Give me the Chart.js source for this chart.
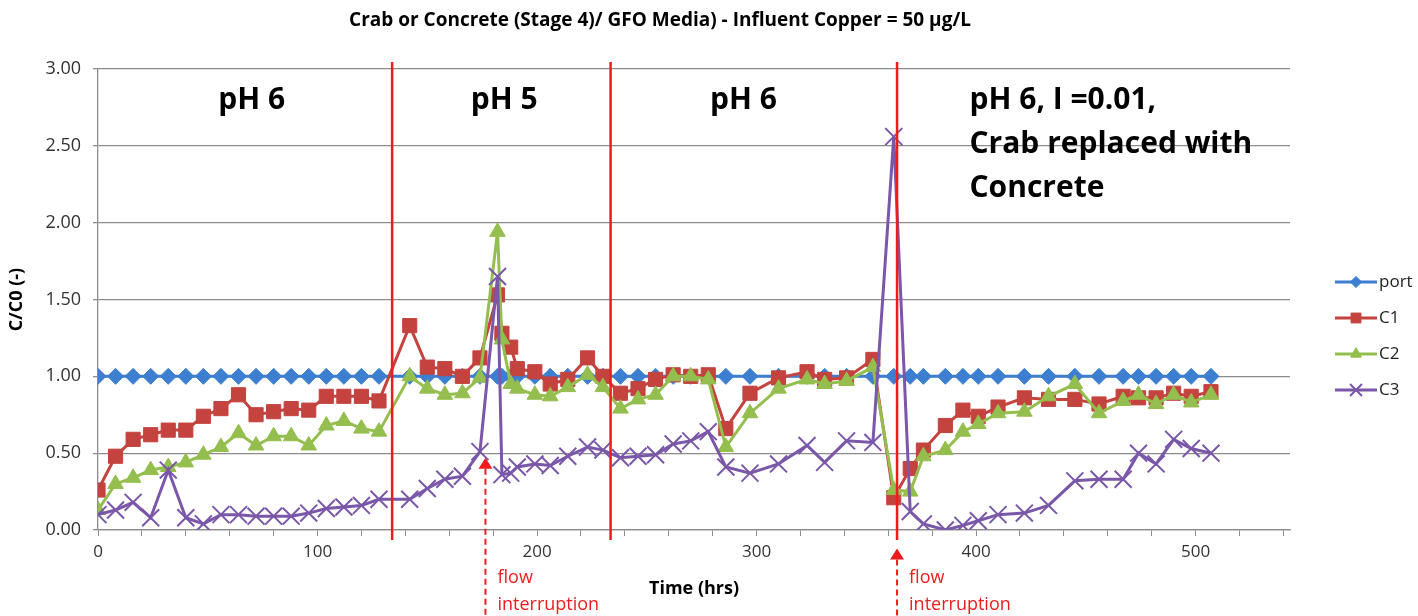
<!DOCTYPE html>
<html>
<head>
<meta charset="utf-8">
<title>Crab or Concrete (Stage 4)/ GFO Media</title>
<script src="https://cdn.jsdelivr.net/npm/chart.js@4.4.1/dist/chart.umd.min.js"></script>
<style>
  html, body { margin: 0; padding: 0; background: #fff; }
  #wrap { width: 1418px; height: 616px; }
</style>
</head>
<body>
<div id="wrap"><canvas id="chart" width="1418" height="616"></canvas></div>
<script>
// sampling times (hrs)
const hours = [
  0, 8, 16, 24, 32, 40, 48, 56, 64, 72, 80, 88, 96, 104, 112, 120, 128,
  142, 150, 158, 166, 174, 182, 184, 188, 191, 199, 206, 214, 223, 230, 238, 246,
  254, 262, 270, 278, 286, 297, 310, 323, 331, 341, 353,
  362.5, 370, 376, 386, 394, 401, 410, 422, 433, 445, 456, 467, 474, 482, 490, 498, 507
]

// C/C0 per sampling point
const port = hours.map(() => 1.00)
const c1 = [
  0.26, 0.48, 0.59, 0.62, 0.65, 0.65, 0.74, 0.79, 0.88, 0.75, 0.77, 0.79, 0.78, 0.87, 0.87, 0.87, 0.84,
  1.33, 1.06, 1.05, 1.00, 1.12, 1.53, 1.28, 1.19, 1.05, 1.03, 0.95, 0.98, 1.12, 1.00, 0.89, 0.92,
  0.98, 1.01, 1.00, 1.01, 0.66, 0.89, 0.99, 1.03, 0.98, 0.99, 1.11,
  0.21, 0.40, 0.52, 0.68, 0.78, 0.74, 0.80, 0.86, 0.85, 0.85, 0.82, 0.87, 0.86, 0.86, 0.89, 0.87, 0.90
]
const c2 = [
  0.13, 0.30, 0.34, 0.39, 0.41, 0.44, 0.49, 0.54, 0.63, 0.55, 0.61, 0.61, 0.55, 0.68, 0.71, 0.66, 0.64,
  1.00, 0.92, 0.88, 0.89, 0.99, 1.94, 1.24, 0.95, 0.92, 0.88, 0.87, 0.93, 1.01, 0.93, 0.79, 0.85,
  0.88, 1.00, 1.00, 0.98, 0.54, 0.76, 0.92, 0.98, 0.95, 0.97, 1.06,
  0.26, 0.25, 0.48, 0.52, 0.64, 0.69, 0.76, 0.77, 0.87, 0.95, 0.76, 0.84, 0.88, 0.82, 0.88, 0.83, 0.88
]
const c3 = [
  0.10, 0.13, 0.18, 0.08, 0.39, 0.08, 0.04, 0.10, 0.10, 0.09, 0.09, 0.09, 0.11, 0.14, 0.15, 0.16, 0.20,
  0.20, 0.27, 0.33, 0.35, 0.51, 1.65, 0.36, 0.37, 0.41, 0.43, 0.42, 0.48, 0.54, 0.52, 0.47, 0.48,
  0.49, 0.56, 0.58, 0.64, 0.41, 0.37, 0.43, 0.55, 0.44, 0.58, 0.57,
  2.56, 0.12, 0.04, 0.00, 0.03, 0.06, 0.10, 0.11, 0.16, 0.32, 0.33, 0.33, 0.50, 0.43, 0.59, 0.53, 0.50
]

const xTicks = [0, 100, 200, 300, 400, 500]
const yTicks = [0, 0.5, 1.0, 1.5, 2.0, 2.5, 3.0]

// phase changes and flow interruptions (hrs)
const phaseBreaks = [134, 233.5, 364]
const flowStops = [176.5, 364]

const RED = '#EE1C1C'
const FONT = "'Open Sans', 'Liberation Sans', sans-serif"

const series = [
  { label: 'port', data: port, color: '#3C7ED0', style: 'rectRot', radius: 8, bw: 1 },
  { label: 'C1', data: c1, color: '#C4433F', style: 'rect', radius: 10, bw: 1 },
  { label: 'C2', data: c2, color: '#94BE4E', style: 'triangle', radius: 9, bw: 1 },
  { label: 'C3', data: c3, color: '#7A57A8', style: 'crossRot', radius: 12, bw: 2 }
]

const toPoints = values => hours.map((h, i) => ({ x: h, y: values[i] }))

const text = (ctx, str, x, y, font, color, align) => {
  ctx.font = font
  ctx.fillStyle = color
  ctx.textAlign = align || 'left'
  ctx.textBaseline = 'middle'
  ctx.fillText(str, x, y)
}

// title, phase separators, labels, flow arrows and the side legend
const annotations = {
  id: 'annotations',
  afterDatasetsDraw(chart) {
    const { ctx, scales: { x, y } } = chart
    ctx.save()

    ctx.strokeStyle = RED
    ctx.lineWidth = 2.5
    phaseBreaks.forEach(t => {
      const px = x.getPixelForValue(t)
      ctx.beginPath()
      ctx.moveTo(px, 62)
      ctx.lineTo(px, 540)
      ctx.stroke()
    })

    const tips = [0.47, -0.12]
    flowStops.forEach((t, i) => {
      const px = x.getPixelForValue(t)
      const tip = y.getPixelForValue(tips[i])
      ctx.fillStyle = RED
      ctx.beginPath()
      ctx.moveTo(px, tip)
      ctx.lineTo(px - 7, tip + 11)
      ctx.lineTo(px + 7, tip + 11)
      ctx.closePath()
      ctx.fill()
      ctx.setLineDash([6, 4])
      ctx.lineWidth = 2
      ctx.beginPath()
      ctx.moveTo(px, tip + 11)
      ctx.lineTo(px, 616)
      ctx.stroke()
      ctx.setLineDash([])
      text(ctx, 'flow', px + 12, 578, `18px ${FONT}`, RED)
      text(ctx, 'interruption', px + 12, 605, `18px ${FONT}`, RED)
    })

    const big = `bold 30px ${FONT}`
    text(ctx, 'pH 6', x.getPixelForValue(70), 100, big, '#000', 'center')
    text(ctx, 'pH 5', x.getPixelForValue(185), 100, big, '#000', 'center')
    text(ctx, 'pH 6', x.getPixelForValue(294), 100, big, '#000', 'center')
    const lx = x.getPixelForValue(397)
    text(ctx, 'pH 6, I =0.01,', lx, 100, big, '#000')
    text(ctx, 'Crab replaced with', lx, 144, big, '#000')
    text(ctx, 'Concrete', lx, 188, big, '#000')

    text(ctx, 'Crab or Concrete (Stage 4)/ GFO Media) - Influent Copper = 50 \u00b5g/L',
      660, 21, `bold 19px ${FONT}`, '#000', 'center')

    // legend
    series.forEach((s, i) => {
      const cy = 282 + i * 36
      ctx.strokeStyle = s.color
      ctx.fillStyle = s.color
      ctx.lineWidth = 3
      ctx.beginPath()
      ctx.moveTo(1335, cy)
      ctx.lineTo(1377, cy)
      ctx.stroke()
      ctx.lineWidth = s.bw
      Chart.helpers.drawPoint(ctx, { pointStyle: s.style, radius: s.radius * 0.7, rotation: 0, borderWidth: s.bw }, 1356, cy)
      text(ctx, s.label, 1379, cy, `17px ${FONT}`, '#222')
    })

    ctx.restore()
  }
}

const chart = new Chart(document.getElementById('chart'), {
  type: 'line',
  data: {
    datasets: series.map((s, i) => ({
      label: s.label,
      data: toPoints(s.data),
      borderColor: s.color,
      backgroundColor: s.color,
      borderWidth: 3,
      pointStyle: s.style,
      pointRadius: s.radius,
      pointBorderWidth: s.bw,
      pointBorderColor: s.color,
      pointBackgroundColor: s.color,
      tension: 0,
      order: series.length - i
    }))
  },
  options: {
    responsive: false,
    devicePixelRatio: 1,
    animation: false,
    layout: { padding: { top: 69, right: 128, bottom: 0, left: 0 } },
    plugins: {
      legend: { display: false },
      tooltip: { enabled: false }
    },
    scales: {
      x: {
        type: 'linear',
        min: 0,
        max: 543,
        afterBuildTicks: axis => {
          const ticks = []
          for (let v = 0; v <= 540; v += 20) ticks.push({ value: v })
          axis.ticks = ticks
        },
        afterFit: axis => { axis.height = 86 },
        ticks: {
          autoSkip: false,
          maxRotation: 0,
          padding: 6,
          color: '#333',
          font: { family: FONT, size: 17 },
          callback: v => (xTicks.includes(v) ? String(v) : '')
        },
        grid: { drawOnChartArea: false, drawTicks: true, tickLength: 6, color: '#8c8c8c' },
        border: { display: true, color: '#8c8c8c', width: 1.3 },
        title: {
          display: true,
          text: 'Time (hrs)',
          color: '#000',
          font: { family: FONT, size: 18, weight: 'bold' },
          padding: { top: 0, bottom: 16 }
        }
      },
      y: {
        min: 0,
        max: 3,
        afterBuildTicks: axis => { axis.ticks = yTicks.map(v => ({ value: v })) },
        afterFit: axis => { axis.width = 98 },
        ticks: {
          padding: 12,
          color: '#333',
          font: { family: FONT, size: 18 },
          callback: v => v.toFixed(2)
        },
        grid: { color: '#8c8c8c', lineWidth: 1.3, tickLength: 5 },
        border: { display: true, color: '#8c8c8c', width: 1.3 },
        title: {
          display: true,
          text: 'C/C0 (-)',
          color: '#000',
          font: { family: FONT, size: 18, weight: 'bold' },
          padding: { top: 6, bottom: 0 }
        }
      }
    }
  },
  plugins: [annotations]
})
</script>
</body>
</html>
